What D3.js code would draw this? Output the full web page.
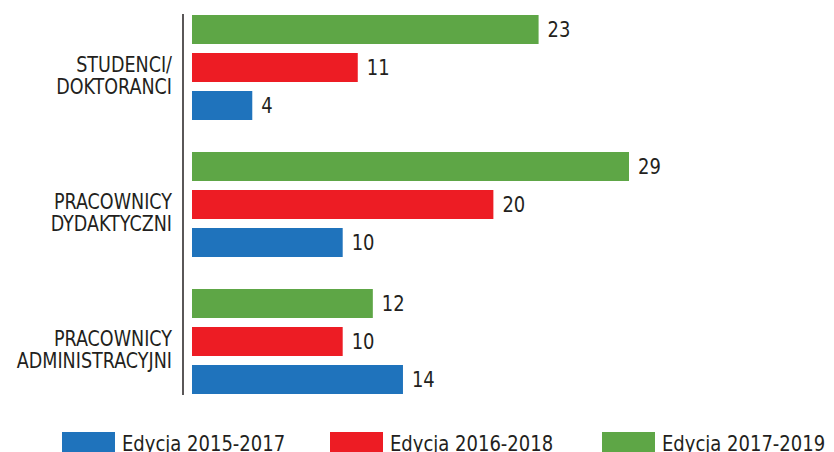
<!DOCTYPE html>
<html>
<head>
<meta charset="utf-8">
<script src="https://cdn.jsdelivr.net/npm/d3@7"></script>
<style>
  body { margin: 0; background: #fff; }
  svg text { font-family: "DejaVu Sans Condensed", "DejaVu Sans", sans-serif; fill: #231f20; }
</style>
</head>
<body>
<svg id="chart" width="834" height="452"></svg>
<script>
// groups from top to bottom
var categories = [["STUDENCI/", "DOKTORANCI"], ["PRACOWNICY", "DYDAKTYCZNI"], ["PRACOWNICY", "ADMINISTRACYJNI"]];
var seriesNames = ["Edycja 2015-2017", "Edycja 2016-2018", "Edycja 2017-2019"];
var seriesColors = ["#1f73bc", "#ed1c24", "#5ea646"];
var ed2015 = [4, 10, 14];
var ed2016 = [11, 20, 10];
var ed2017 = [23, 29, 12];

var values = [ed2015, ed2016, ed2017];
var svg = d3.select("#chart");

var catKeys = categories.map(c => c.join(" "));

var x = d3.scaleLinear().domain([0, 29]).range([192, 629]);

var y0 = d3.scaleBand()
  .domain(catKeys)
  .range([15, 394])
  .paddingInner(32 / 137)
  .paddingOuter(0);

// within a group the newest edition is on top
var y1 = d3.scaleBand()
  .domain([2, 1, 0])
  .range([0, y0.bandwidth()])
  .paddingInner(9 / 38);

var color = d3.scaleOrdinal().domain([0, 1, 2]).range(seriesColors);

// vertical axis line
svg.append("line")
  .attr("x1", 183).attr("x2", 183)
  .attr("y1", 14).attr("y2", 395)
  .attr("stroke", "#231f20")
  .attr("stroke-width", 1.5);

var group = svg.selectAll("g.grp")
  .data(catKeys)
  .enter().append("g")
  .attr("class", "grp")
  .attr("transform", d => `translate(0,${y0(d)})`);

group.selectAll("rect")
  .data((d, i) => [0, 1, 2].map(s => ({s: s, v: values[s][i]})))
  .enter().append("rect")
  .attr("x", x(0))
  .attr("y", d => y1(d.s))
  .attr("width", d => x(d.v) - x(0))
  .attr("height", y1.bandwidth())
  .attr("fill", d => color(d.s));

group.selectAll("text.val")
  .data((d, i) => [0, 1, 2].map(s => ({s: s, v: values[s][i]})))
  .enter().append("text")
  .attr("class", "val")
  .attr("transform", d => `translate(${x(d.v) + 9},${y1(d.s) + y1.bandwidth() / 2}) scale(0.95,1)`)
  .attr("dy", "0.36em")
  .style("font-size", "21px")
  .text(d => d.v);

// category labels (font squeezed a little to look condensed)
group.append("text")
  .attr("text-anchor", "end")
  .attr("transform", `translate(172,${y0.bandwidth() / 2}) scale(0.93,1)`)
  .style("font-size", "21px")
  .selectAll("tspan")
  .data((d, i) => categories[i])
  .enter().append("tspan")
  .attr("x", 0)
  .attr("dy", (d, i) => i === 0 ? "0.22em" : "1.05em")
  .text(d => d);

// legend
var legendX = [62, 330, 602];
var legend = svg.selectAll("g.legend")
  .data(seriesNames)
  .enter().append("g")
  .attr("class", "legend")
  .attr("transform", (d, i) => `translate(${legendX[i]},432)`);

legend.append("rect")
  .attr("width", 53)
  .attr("height", 22)
  .attr("fill", (d, i) => color(i));

legend.append("text")
  .attr("transform", "translate(60,11) scale(0.91,1)")
  .attr("dy", "0.36em")
  .style("font-size", "22px")
  .text(d => d);
</script>
</body>
</html>
